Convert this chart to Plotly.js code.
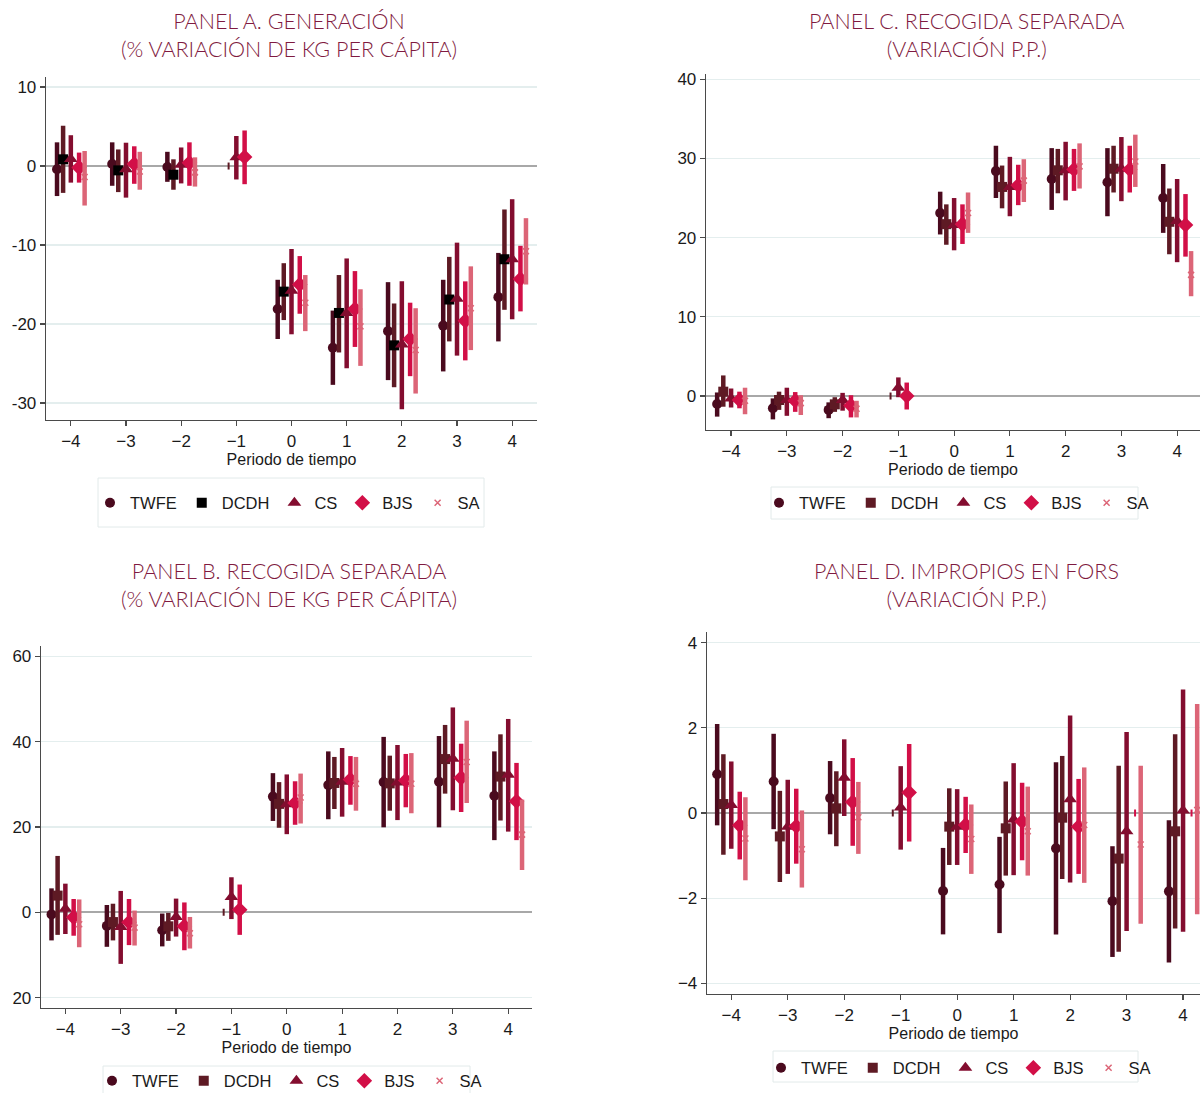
<!DOCTYPE html>
<html>
<head>
<meta charset="utf-8">
<script src="https://cdn.plot.ly/plotly-3.0.1.min.js"></script>
<style>
  html, body { margin: 0; padding: 0; background: #ffffff; overflow: hidden; }
  #chart { width: 1200px; height: 1093px; }
</style>
</head>
<body>
<div id="chart"></div>
<script>
// ---------------- DATA ----------------
const periods = [-4, -3, -2, -1, 0, 1, 2, 3, 4];
const seriesNames = ['TWFE', 'DCDH', 'CS', 'BJS', 'SA'];
const xTitle = 'Periodo de tiempo';

// Panel A. Generación (% variación de kg per cápita)
const A_TWFE    = [-0.4, 0.25, -0.13, null, -18.1, -23.0, -20.9, -20.2, -16.6];
const A_TWFE_lo = [-3.8, -2.5, -2.0, null, -21.9, -27.7, -27.1, -26.0, -22.2];
const A_TWFE_hi = [3.0, 3.0, 1.8, null, -14.4, -18.3, -14.7, -14.4, -11.0];
const A_DCDH    = [0.85, -0.55, -1.1, null, -15.9, -18.6, -22.7, -16.9, -11.8];
const A_DCDH_lo = [-3.4, -3.3, -3.0, null, -19.5, -23.6, -28.0, -22.2, -18.2];
const A_DCDH_hi = [5.1, 2.1, 0.85, null, -12.3, -13.8, -17.4, -11.5, -5.5];
const A_CS      = [0.9, -0.4, 0.15, 1.1, -15.8, -18.6, -22.6, -16.8, -11.8];
const A_CS_lo   = [-2.1, -4.0, -2.2, -1.7, -21.3, -25.6, -30.8, -24.0, -19.4];
const A_CS_hi   = [3.9, 2.95, 2.35, 3.8, -10.5, -11.7, -14.6, -9.7, -4.2];
const A_BJS     = [-0.2, 0.25, 0.4, 1.15, -15.0, -18.1, -21.9, -19.6, -14.3];
const A_BJS_lo  = [-2.1, -2.25, -2.5, -2.3, -18.7, -22.9, -26.6, -24.6, -18.4];
const A_BJS_hi  = [1.7, 2.5, 3.0, 4.5, -11.4, -13.3, -17.3, -14.6, -10.1];
const A_SA      = [-1.4, -0.7, -0.8, null, -17.3, -20.3, -23.3, -18.0, -10.8];
const A_SA_lo   = [-5.0, -3.0, -2.6, null, -20.9, -25.3, -28.8, -23.3, -15.0];
const A_SA_hi   = [1.9, 1.8, 1.1, null, -13.8, -15.6, -18.0, -12.7, -6.6];
const A_ref_period = [-1];
const A_ref_series = ['DCDH'];
const A_ref_value  = [0];

// Panel B. Recogida separada (% variación de kg per cápita)
const B_TWFE    = [-0.5, -3.2, -4.2, null, 27.1, 29.8, 30.5, 30.6, 27.3];
const B_TWFE_lo = [-6.6, -8.1, -8.0, null, 21.4, 21.8, 19.9, 19.9, 16.9];
const B_TWFE_hi = [5.6, 1.7, -0.3, null, 32.6, 37.7, 41.1, 41.3, 37.7];
const B_DCDH    = [3.9, -2.3, -3.3, null, 25.4, 30.3, 30.2, 35.9, 31.8];
const B_DCDH_lo = [-5.3, -6.6, -6.7, null, 19.8, 24.2, 23.8, 27.8, 21.5];
const B_DCDH_hi = [13.2, 2.0, -0.15, null, 30.5, 36.4, 36.7, 43.9, 41.7];
const B_CS      = [0.8, -3.45, -1.1, 3.6, 25.3, 30.6, 30.4, 36.0, 32.2];
const B_CS_lo   = [-5.1, -12.1, -5.7, -1.6, 18.3, 22.4, 21.6, 23.9, 18.9];
const B_CS_hi   = [6.7, 5.0, 3.2, 8.2, 32.3, 38.5, 39.2, 48.0, 45.3];
const B_BJS     = [-1.2, -2.35, -3.3, 0.6, 25.6, 31.1, 30.9, 31.5, 26.0];
const B_BJS_lo  = [-5.5, -7.7, -8.9, -5.3, 20.5, 25.2, 24.6, 23.5, 16.9];
const B_BJS_hi  = [3.1, 3.1, 2.3, 6.5, 30.7, 36.6, 37.1, 39.5, 35.0];
const B_SA      = [-2.8, -3.6, -4.9, null, 26.9, 30.1, 30.1, 35.2, 18.2];
const B_SA_lo   = [-8.2, -7.8, -8.5, null, 20.8, 23.8, 23.2, 25.6, 9.9];
const B_SA_hi   = [3.0, 0.4, -1.1, null, 32.5, 36.4, 37.3, 44.9, 26.4];
const B_ref_period = [-1];
const B_ref_series = ['DCDH'];
const B_ref_value  = [0];

// Panel C. Recogida separada (variación p.p.)
const C_TWFE    = [-1.0, -1.55, -1.75, null, 23.1, 28.4, 27.4, 27.0, 25.0];
const C_TWFE_lo = [-2.6, -2.95, -2.8, null, 20.4, 25.0, 23.5, 22.7, 20.6];
const C_TWFE_hi = [0.45, -0.3, -0.8, null, 25.8, 31.6, 31.3, 31.3, 29.3];
const C_DCDH    = [0.55, -0.5, -1.05, null, 21.7, 26.4, 28.5, 28.7, 22.0];
const C_DCDH_lo = [-1.35, -1.75, -2.0, null, 19.1, 23.7, 25.6, 25.7, 17.9];
const C_DCDH_hi = [2.6, 0.55, -0.15, null, 24.2, 29.1, 31.2, 31.6, 26.2];
const C_CS      = [-0.3, -0.5, -0.5, 1.05, 21.6, 26.4, 28.5, 28.7, 22.1];
const C_CS_lo   = [-1.45, -2.5, -1.85, -0.15, 18.4, 22.7, 24.7, 24.6, 16.9];
const C_CS_hi   = [0.95, 1.05, 0.4, 2.35, 25.0, 30.2, 32.1, 32.7, 27.4];
const C_BJS     = [-0.5, -0.6, -1.2, 0, 21.7, 26.6, 28.6, 28.6, 21.6];
const C_BJS_lo  = [-1.55, -2.0, -2.7, -1.7, 19.2, 24.1, 25.9, 25.7, 17.6];
const C_BJS_hi  = [0.55, 0.5, 0.1, 1.7, 24.2, 29.2, 31.2, 31.6, 25.5];
const C_SA      = [-0.6, -0.9, -1.6, null, 23.1, 27.2, 29.0, 29.6, 15.3];
const C_SA_lo   = [-2.3, -2.4, -2.7, null, 20.6, 24.5, 26.2, 26.4, 12.6];
const C_SA_hi   = [1.05, 0.1, -0.6, null, 25.7, 29.9, 31.9, 33.0, 18.3];
const C_ref_period = [-1];
const C_ref_series = ['DCDH'];
const C_ref_value  = [0];

// Panel D. Impropios en FORS (variación p.p.)
const D_TWFE    = [0.91, 0.74, 0.35, null, -1.83, -1.68, -0.83, -2.07, -1.84];
const D_TWFE_lo = [-0.29, -0.38, -0.5, null, -2.85, -2.82, -2.85, -3.38, -3.51];
const D_TWFE_hi = [2.09, 1.86, 1.22, null, -0.82, -0.56, 1.19, -0.78, -0.17];
const D_DCDH    = [0.21, -0.55, 0.11, null, -0.32, -0.36, -0.11, -1.07, -0.43];
const D_DCDH_lo = [-0.98, -1.62, -0.78, null, -1.22, -1.47, -1.55, -3.26, -2.71];
const D_DCDH_hi = [1.38, 0.52, 0.98, null, 0.58, 0.74, 1.34, 1.11, 1.85];
const D_CS      = [0.19, -0.32, 0.83, 0.13, -0.32, -0.15, 0.32, -0.43, 0.06];
const D_CS_lo   = [-0.84, -1.43, -0.07, -0.86, -1.22, -1.46, -1.63, -2.77, -2.79];
const D_CS_hi   = [1.21, 0.78, 1.73, 1.1, 0.56, 1.17, 2.29, 1.9, 2.9];
const D_BJS     = [-0.29, -0.31, 0.26, 0.48, -0.28, -0.2, -0.32, null, null];
const D_BJS_lo  = [-1.09, -1.19, -0.77, -0.67, -0.94, -1.11, -1.43, null, null];
const D_BJS_hi  = [0.5, 0.57, 1.29, 1.62, 0.38, 0.71, 0.8, null, null];
const D_SA      = [-0.6, -0.85, -0.1, null, -0.61, -0.43, -0.28, -0.74, 0.07];
const D_SA_lo   = [-1.58, -1.75, -0.96, null, -1.43, -1.47, -1.64, -2.6, -2.38];
const D_SA_hi   = [0.37, 0.06, 0.73, null, 0.2, 0.62, 1.07, 1.11, 2.56];
const D_ref_period = [-1, 3, 4];
const D_ref_series = ['DCDH', 'BJS', 'BJS'];
const D_ref_value  = [0, 0, 0];

const titleA = ['PANEL A. GENERACIÓN', '(% VARIACIÓN DE KG PER CÁPITA)'];
const titleB = ['PANEL B. RECOGIDA SEPARADA', '(% VARIACIÓN DE KG PER CÁPITA)'];
const titleC = ['PANEL C. RECOGIDA SEPARADA', '(VARIACIÓN P.P.)'];
const titleD = ['PANEL D. IMPROPIOS EN FORS', '(VARIACIÓN P.P.)'];

const yTicksA = [-30, -20, -10, 0, 10];
const yTickTextA = ['-30', '-20', '-10', '0', '10'];
const yTicksB = [-20, 0, 20, 40, 60];
const yTickTextB = ['20', '0', '20', '40', '60'];
const yTicksC = [0, 10, 20, 30, 40];
const yTicksD = [-4, -2, 0, 2, 4];

// ---------------- STYLE ----------------
const W = 1200, H = 1093;
const colors  = { TWFE: '#4a0a1e', DCDH: '#5e1a24', CS: '#830d2f', BJS: '#d20f47', SA: '#dc6577' };
const symbols = { TWFE: 'circle', DCDH: 'square', CS: 'triangle-up', BJS: 'diamond', SA: 'x-thin' };
const msize   = { TWFE: 10, DCDH: 10, CS: 12, BJS: 12, SA: 6 };
const offsets = { TWFE: -0.25, DCDH: -0.14, CS: 0, BJS: 0.15, SA: 0.25 };
const TXT = '#1a1a1a';
const AX = '#4a4a4a';
const FONT = 'Liberation Sans, Arial, Helvetica, sans-serif';
const TFONT = 'Lato, Open Sans, sans-serif';
const TCOL = '#7f1a40';

const px = x => x / W;
const py = y => 1 - y / H;

const traces = [];
function addPanel(data, xa, ya, legendId, dcdhMarkerColor) {
  seriesNames.forEach(s => {
    const est = data[s][0], lo = data[s][1], hi = data[s][2];
    const isX = s === 'SA';
    const mcol = (s === 'DCDH' && dcdhMarkerColor) ? dcdhMarkerColor : colors[s];
    traces.push({
      type: 'scatter', mode: 'markers', name: s,
      x: periods.map(p => p + offsets[s]), y: est,
      xaxis: xa, yaxis: ya, legend: legendId, showlegend: true,
      marker: isX
        ? { symbol: symbols[s], size: msize[s], color: colors[s], line: { color: colors[s], width: 1.5 } }
        : { symbol: symbols[s], size: msize[s], color: mcol, line: { width: 0 } },
      error_y: {
        type: 'data', symmetric: false,
        array: hi.map((h, i) => (h == null || est[i] == null) ? null : h - est[i]),
        arrayminus: lo.map((l, i) => (l == null || est[i] == null) ? null : est[i] - l),
        color: colors[s], thickness: 4.5, width: 0
      },
      hoverinfo: 'x+y'
    });
  });
  // reference (normalised) estimates drawn as tiny ticks
  const rp = data.ref[0], rs = data.ref[1], rv = data.ref[2];
  traces.push({
    type: 'scatter', mode: 'markers', showlegend: false,
    x: rp.map((p, i) => p + offsets[rs[i]]), y: rv,
    xaxis: xa, yaxis: ya,
    marker: { symbol: 'line-ns', size: 5, color: rs.map(s => colors[s]),
              line: { color: rs.map(s => colors[s]), width: 2 } },
    hoverinfo: 'skip'
  });
}

addPanel({ TWFE: [A_TWFE, A_TWFE_lo, A_TWFE_hi], DCDH: [A_DCDH, A_DCDH_lo, A_DCDH_hi],
           CS: [A_CS, A_CS_lo, A_CS_hi], BJS: [A_BJS, A_BJS_lo, A_BJS_hi], SA: [A_SA, A_SA_lo, A_SA_hi],
           ref: [A_ref_period, A_ref_series, A_ref_value] }, 'x', 'y', 'legend', '#000000');
addPanel({ TWFE: [C_TWFE, C_TWFE_lo, C_TWFE_hi], DCDH: [C_DCDH, C_DCDH_lo, C_DCDH_hi],
           CS: [C_CS, C_CS_lo, C_CS_hi], BJS: [C_BJS, C_BJS_lo, C_BJS_hi], SA: [C_SA, C_SA_lo, C_SA_hi],
           ref: [C_ref_period, C_ref_series, C_ref_value] }, 'x2', 'y2', 'legend2', null);
addPanel({ TWFE: [B_TWFE, B_TWFE_lo, B_TWFE_hi], DCDH: [B_DCDH, B_DCDH_lo, B_DCDH_hi],
           CS: [B_CS, B_CS_lo, B_CS_hi], BJS: [B_BJS, B_BJS_lo, B_BJS_hi], SA: [B_SA, B_SA_lo, B_SA_hi],
           ref: [B_ref_period, B_ref_series, B_ref_value] }, 'x3', 'y3', 'legend3', null);
addPanel({ TWFE: [D_TWFE, D_TWFE_lo, D_TWFE_hi], DCDH: [D_DCDH, D_DCDH_lo, D_DCDH_hi],
           CS: [D_CS, D_CS_lo, D_CS_hi], BJS: [D_BJS, D_BJS_lo, D_BJS_hi], SA: [D_SA, D_SA_lo, D_SA_hi],
           ref: [D_ref_period, D_ref_series, D_ref_value] }, 'x4', 'y4', 'legend4', null);

function xAxis(l, r, range, anchor) {
  return {
    domain: [px(l), px(r)], range: range, anchor: anchor,
    tickmode: 'array', tickvals: periods,
    ticks: 'outside', ticklen: 5, tickwidth: 1.2, tickcolor: AX,
    showline: true, linecolor: AX, linewidth: 1.3,
    showgrid: false, zeroline: false,
    tickfont: { family: FONT, size: 17, color: TXT },
    title: { text: xTitle, font: { family: FONT, size: 16, color: TXT }, standoff: 2 },
    automargin: false, fixedrange: true
  };
}
function yAxis(top, bottom, range, anchor, tickvals, ticktext) {
  const a = {
    domain: [py(bottom), py(top)], range: range, anchor: anchor,
    tickmode: 'array', tickvals: tickvals,
    ticks: 'outside', ticklen: 5, tickwidth: 1.2, tickcolor: AX,
    showline: true, linecolor: AX, linewidth: 1.3,
    showgrid: true, gridcolor: '#e4eeee', gridwidth: 1.3,
    zeroline: true, zerolinecolor: '#a8a8a8', zerolinewidth: 1.6,
    tickfont: { family: FONT, size: 17, color: TXT },
    automargin: false, fixedrange: true
  };
  if (ticktext) a.ticktext = ticktext;
  return a;
}
function legendAt(x, yc) {
  return {
    orientation: 'h', x: px(x), y: py(yc),
    xanchor: 'left', yanchor: 'middle',
    bgcolor: 'rgba(0,0,0,0)', borderwidth: 0,
    font: { family: FONT, size: 16.5, color: TXT },
    itemclick: false, itemdoubleclick: false
  };
}
function titleAnn(lines, cx, yc) {
  return { text: lines.join('<br>'), x: px(cx), y: py(yc), xref: 'paper', yref: 'paper',
           xanchor: 'center', yanchor: 'middle', align: 'center', showarrow: false,
           font: { family: TFONT, size: 21.5, weight: 300, color: TCOL } };
}
function box(l, t, r, b) {
  return { type: 'rect', xref: 'paper', yref: 'paper', x0: px(l), x1: px(r), y0: py(b), y1: py(t),
           line: { color: '#e2eaea', width: 1 }, fillcolor: 'rgba(0,0,0,0)', layer: 'below' };
}

const layout = {
  width: W, height: H,
  margin: { l: 0, r: 0, t: 0, b: 0, autoexpand: false },
  paper_bgcolor: '#ffffff', plot_bgcolor: '#ffffff',
  showlegend: true,
  font: { family: FONT, size: 15, color: TXT },
  xaxis:  xAxis(46, 537, [-4.45, 4.45], 'y'),
  yaxis:  yAxis(77, 420, [-32.15, 11.27], 'x', yTicksA, yTickTextA),
  xaxis2: xAxis(706, 1200, [-4.45, 4.41], 'y2'),
  yaxis2: yAxis(74, 430, [-4.29, 40.66], 'x2', yTicksC, null),
  xaxis3: xAxis(41, 532, [-4.44, 4.43], 'y3'),
  yaxis3: yAxis(646, 1008, [-22.44, 62.4], 'x3', yTicksB, yTickTextB),
  xaxis4: xAxis(707, 1200, [-4.43, 4.30], 'y4'),
  yaxis4: yAxis(632, 994, [-4.25, 4.25], 'x4', yTicksD, null),
  legend:  legendAt(90, 503),
  legend2: legendAt(759, 503),
  legend3: legendAt(92, 1081),
  legend4: legendAt(761, 1068),
  shapes: [
    box(98, 478, 484, 527),
    box(771, 487, 1138, 519),
    box(103, 1066, 470, 1100),
    box(773, 1051, 1138, 1082)
  ],
  annotations: [
    titleAnn(titleA, 289, 34.5),
    titleAnn(titleC, 966, 34.5),
    titleAnn(titleB, 289, 584.5),
    titleAnn(titleD, 966, 584.5)
  ]
};

Plotly.newPlot('chart', traces, layout, { displayModeBar: false, staticPlot: true });
</script>
</body>
</html>
